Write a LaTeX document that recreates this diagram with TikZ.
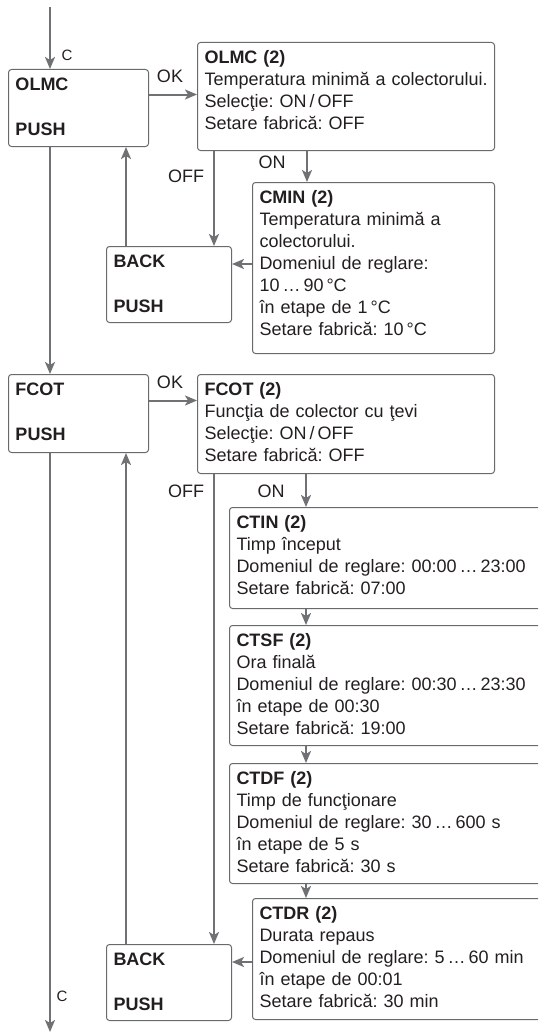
\documentclass[tikz,border=0pt]{standalone}
\usepackage{fontspec}
\setmainfont{Liberation Sans}
\usetikzlibrary{arrows.meta}
\definecolor{flowgray}{RGB}{112,113,116}
\definecolor{framegray}{RGB}{105,106,108}
\definecolor{textdark}{RGB}{35,31,32}
\frenchspacing

\begin{document}
\begin{tikzpicture}[x=1pt,y=-1pt,
  menubox/.style={draw=framegray, line width=1pt, rounded corners=3pt, anchor=north west,
    align=left, inner xsep=7pt, inner ysep=0pt, text=textdark,
    font=\fontsize{18}{22}\selectfont},
  keybox/.style={menubox, font=\fontsize{18}{22}\selectfont\bfseries},
  flow/.style={draw=flowgray, line width=2pt, -{Stealth[length=12pt, width=10pt, inset=3pt]}},
  lbl/.style={text=textdark, inner sep=0pt, font=\fontsize{18}{22}\selectfont},
  keylbl/.style={lbl, font=\fontsize{15}{18}\selectfont}]
\useasboundingbox (0,0) rectangle (538,1033);
\clip (0,0) rectangle (538,1033);

\node[keybox, text width=126pt, minimum height=77pt, text depth=48pt] (olmc) at (8,69) {OLMC\\[23pt]PUSH};
\node[menubox, text width=283pt, minimum height=108pt, text depth=79pt] (olmcx) at (197,42)
  {\textbf{OLMC (2)}\\\mbox{Temperatura minimă a colectorului.}\\Selecţie: ON\,/\,OFF\\Setare fabrică: OFF};
\node[menubox, text width=228pt, minimum height=171pt, text depth=142pt] (cmin) at (252,182)
  {\textbf{CMIN (2)}\\Temperatura minimă a\\colectorului.\\Domeniul de reglare:\\10\,…\,90\,°C\\în etape de 1\,°C\\Setare fabrică: 10\,°C};
\node[keybox, text width=111pt, minimum height=76pt, text depth=47pt] (back1) at (106,246) {BACK\\[23pt]PUSH};

\node[keybox, text width=126pt, minimum height=78pt, text depth=49pt] (fcot) at (8,374) {FCOT\\[23pt]PUSH};
\node[menubox, text width=283pt, minimum height=99pt, text depth=70pt] (fcotx) at (197,374)
  {\textbf{FCOT (2)}\\Funcţia de colector cu ţevi\\Selecţie: ON\,/\,OFF\\Setare fabrică: OFF};
\node[menubox, text width=316pt, minimum height=101pt, text depth=72pt] (ctin) at (229,507)
  {\textbf{CTIN (2)}\\Timp început\\Domeniul de reglare: 00:00\,…\,23:00\\Setare fabrică: 07:00};
\node[menubox, text width=316pt, minimum height=120pt, text depth=91pt] (ctsf) at (229,625)
  {\textbf{CTSF (2)}\\Ora finală\\Domeniul de reglare: 00:30\,…\,23:30\\în etape de 00:30\\Setare fabrică: 19:00};
\node[menubox, text width=316pt, minimum height=120pt, text depth=91pt] (ctdf) at (229,763)
  {\textbf{CTDF (2)}\\Timp de funcţionare\\Domeniul de reglare: 30\,…\,600 s\\în etape de 5 s\\Setare fabrică: 30 s};
\node[menubox, text width=296pt, minimum height=121pt, text depth=92pt] (ctdr) at (252,898)
  {\textbf{CTDR (2)}\\Durata repaus\\Domeniul de reglare: 5\,…\,60 min\\în etape de 00:01\\Setare fabrică: 30 min};
\node[keybox, text width=111pt, minimum height=76pt, text depth=47pt] (back2) at (106,944) {BACK\\[23pt]PUSH};

\node[keylbl] (lc1) at (67,55) {C};
\node[lbl] (lok1) at (170,76) {OK};
\node[lbl] (lon1) at (272,162) {ON};
\node[lbl] (loff1) at (186,176) {OFF};
\node[lbl] (lok2) at (170,382) {OK};
\node[lbl] (loff2) at (186,491) {OFF};
\node[lbl] (lon2) at (271,491) {ON};
\node[keylbl] (lc2) at (62,996) {C};

\coordinate (top) at (50,7);
\coordinate (bottom) at (50,1032);
\coordinate (ok1) at ([yshift=13.5pt]olmc.east);
\coordinate (on1) at ([xshift=55pt]cmin.north west);
\coordinate (off1) at ([xshift=108pt]back1.north west);
\coordinate (ret1) at ([yshift=-18pt]back1.north east);
\coordinate (up1) at ([xshift=20pt]back1.north west);
\coordinate (ok2) at ([yshift=13pt]fcot.east);
\coordinate (on2) at ([xshift=77pt]ctin.north west);
\coordinate (off2) at ([xshift=108pt]back2.north west);
\coordinate (ret2) at ([yshift=-18pt]back2.north east);
\coordinate (up2) at ([xshift=20pt]back2.north west);

\draw[flow] (top) -- (top |- olmc.north);
\draw[flow] (ok1) -- (ok1 -| olmcx.west);
\draw[flow] (olmcx.south -| on1) -- (on1);
\draw[flow] (olmcx.south -| off1) -- (off1);
\draw[flow] (ret1 -| cmin.west) -- (ret1);
\draw[flow] (up1) -- (up1 |- olmc.south);
\draw[flow] (olmc.south -| top) -- (fcot.north -| top);

\draw[flow] (ok2) -- (ok2 -| fcotx.west);
\draw[flow] (fcotx.south -| on2) -- (on2);
\draw[flow] (fcotx.south -| off2) -- (off2);
\draw[flow] (ctin.south -| on2) -- (ctsf.north -| on2);
\draw[flow] (ctsf.south -| on2) -- (ctdf.north -| on2);
\draw[flow] (ctdf.south -| on2) -- (ctdr.north -| on2);
\draw[flow] (ret2 -| ctdr.west) -- (ret2);
\draw[flow] (up2) -- (up2 |- fcot.south);
\draw[flow] (fcot.south -| bottom) -- (bottom);
\end{tikzpicture}
\end{document}
